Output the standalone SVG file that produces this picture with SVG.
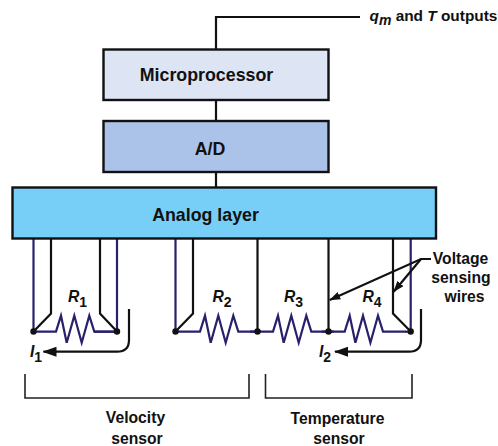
<svg xmlns="http://www.w3.org/2000/svg" width="498" height="446" viewBox="0 0 498 446">
<style>
text{font-family:"Liberation Sans",Arial,sans-serif;font-weight:bold;fill:#111;font-size:15.7px}
.c{text-anchor:middle}
.h{font-size:17.8px}
.i{font-style:italic}
.box{stroke:#111;stroke-width:2.4}
.k{fill:none;stroke:#111;stroke-width:2.2;stroke-linejoin:miter}
.n{fill:none;stroke:#27206b;stroke-width:2.2;stroke-linejoin:miter}
.b{fill:none;stroke:#222;stroke-width:1.6}
.a{fill:none;stroke:#111;stroke-width:2.2}
.sub{font-size:14px;font-style:normal}
</style>
<defs>
<marker id="ah" markerUnits="userSpaceOnUse" markerWidth="14" markerHeight="10" refX="13" refY="5" orient="auto"><path d="M0 0L14 5L0 10z" fill="#111"/></marker>
<marker id="as" markerUnits="userSpaceOnUse" markerWidth="11" markerHeight="8" refX="10.5" refY="4" orient="auto"><path d="M0 0L11 4L0 8z" fill="#111"/></marker>
<path id="zz" d="M0 0H23L28 -16L33.700 11L41.300 -16L48.700 11L56.300 -16L61.300 0H84"/>
<circle id="dot" r="3.2" fill="#111"/>
</defs>
<g id="connectors">
<path class="k" d="M216 49V17H360"/>
<path class="k" d="M216 100V121"/>
<path class="k" d="M216 172V187"/>
<path class="n" d="M33.500 238V331.500"/>
<path class="n" d="M117 238V331.500"/>
<path class="n" d="M175.500 238V331.500"/>
<path class="n" d="M410.700 238V331.500"/>
<path class="k" d="M51 238V313.500L33.500 331.500"/>
<path class="k" d="M100 238V313.500L117 331.500"/>
<path class="k" d="M193 238V313.500L175.500 331.500"/>
<path class="k" d="M393 238V313.500L410.700 331.500"/>
<path class="k" d="M257.500 238V331.500"/>
<path class="k" d="M328.500 238V331.500"/>
<use href="#zz" class="n" transform="translate(33 331.700)"/>
<path class="n" d="M117 331.700H94"/>
<use href="#zz" class="n" transform="translate(177 331.700)"/>
<use href="#zz" class="n" transform="translate(250 331.700)"/>
<use href="#zz" class="n" transform="translate(321.700 331.700)"/>
<path class="n" d="M405 331.700H410"/>
<use href="#dot" x="33.500" y="331.500"/>
<use href="#dot" x="117" y="331.500"/>
<use href="#dot" x="175.500" y="331.500"/>
<use href="#dot" x="257.500" y="331.500"/>
<use href="#dot" x="328.500" y="331.500"/>
<use href="#dot" x="410.700" y="331.500"/>
<path class="a" d="M129 309V340Q129 351.700 117 351.700H43.500" marker-end="url(#ah)"/>
<path class="a" d="M421 309V340Q421 351.700 409 351.700H335" marker-end="url(#ah)"/>
<path class="b" d="M25 374V398H249V374"/>
<path class="b" d="M265.500 374V398H412V374"/>
<path class="a" d="M431 259H421L329.700 300" marker-end="url(#as)"/>
<path class="a" d="M421 259L393.700 291.700" marker-end="url(#as)"/>
</g>
<g id="microprocessor">
<rect class="box" x="103.500" y="49.500" width="225" height="50.500" fill="#dde4f3"/>
<text class="c h" x="206.500" y="81">Microprocessor</text>
</g>
<g id="ad">
<rect class="box" x="103.500" y="121" width="225" height="51" fill="#abc3e8"/>
<text class="c h" x="210" y="155">A/D</text>
</g>
<g id="analog">
<rect class="box" x="12.500" y="187.500" width="423.500" height="51" fill="#77cff7"/>
<text class="c h" x="205.500" y="220.500">Analog layer</text>
</g>
<g id="labels">
<text x="369.500" y="21" style="font-size:15.4px"><tspan class="i">q</tspan><tspan class="i" dy="3.500" style="font-size:14px">m</tspan><tspan dy="-3.500"> and </tspan><tspan class="i">T</tspan> outputs</text>
<text x="68" y="302" class="i">R<tspan class="sub" dy="4.500">1</tspan></text>
<text x="212.500" y="302" class="i">R<tspan class="sub" dy="4.500">2</tspan></text>
<text x="284" y="302" class="i">R<tspan class="sub" dy="4.500">3</tspan></text>
<text x="362.500" y="302" class="i">R<tspan class="sub" dy="4.500">4</tspan></text>
<text x="30" y="357" class="i">I<tspan class="sub" dy="5">1</tspan></text>
<text x="319" y="357" class="i">I<tspan class="sub" dy="5">2</tspan></text>
<text class="c" x="460.500" y="264">Voltage</text>
<text class="c" x="461" y="283">sensing</text>
<text class="c" x="464.500" y="302">wires</text>
<text class="c" x="135.500" y="423">Velocity</text>
<text class="c" x="137" y="444">sensor</text>
<text class="c" x="337.500" y="424">Temperature</text>
<text class="c" x="339" y="444">sensor</text>
</g>
</svg>
